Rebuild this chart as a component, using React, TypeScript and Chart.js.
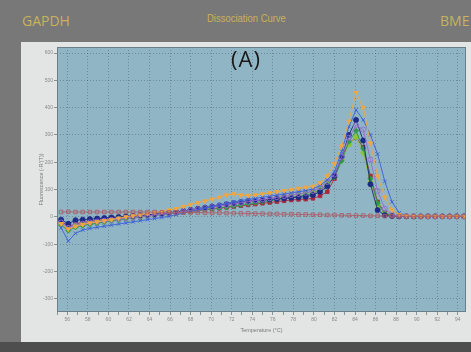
import React, { useEffect, useRef } from 'react';
import { Chart, registerables } from 'chart.js';

Chart.register(...registerables);

const temperatures = [55.4, 56.1, 56.8, 57.5, 58.2, 58.9, 59.6, 60.3, 61.0, 61.7, 62.4, 63.1, 63.8, 64.5, 65.2, 65.9, 66.6, 67.3, 68.0, 68.7, 69.4, 70.1, 70.8, 71.5, 72.2, 72.9, 73.6, 74.3, 75.0, 75.7, 76.4, 77.1, 77.8, 78.5, 79.2, 79.9, 80.6, 81.3, 82.0, 82.7, 83.4, 84.1, 84.8, 85.5, 86.2, 86.9, 87.6, 88.3, 89.0, 89.7, 90.4, 91.1, 91.8, 92.5, 93.2, 93.9, 94.6];

const orange = [-25, -45, -35, -28, -22, -18, -14, -10, -5, 0, 4, 8, 12, 16, 20, 25, 30, 38, 45, 52, 58, 65, 72, 80, 84, 80, 78, 80, 84, 88, 92, 96, 100, 104, 108, 112, 125, 150, 195, 260, 350, 455, 400, 270, 150, 72, 25, 8, 4, 3, 3, 2, 2, 2, 2, 2, 2];
const blue = [-40, -88, -60, -48, -42, -38, -34, -30, -26, -22, -18, -14, -10, -6, -2, 2, 8, 14, 20, 26, 32, 38, 44, 50, 55, 60, 64, 68, 72, 76, 80, 84, 88, 92, 96, 102, 115, 135, 165, 240, 330, 392, 355, 300, 230, 130, 55, 15, 5, 3, 3, 2, 2, 2, 2, 2, 2];
const navy = [-10, -25, -12, -10, -8, -6, -4, -2, 0, 2, 4, 6, 8, 10, 12, 15, 18, 22, 26, 30, 34, 38, 42, 46, 50, 54, 58, 60, 62, 64, 66, 68, 70, 72, 74, 80, 92, 112, 150, 220, 300, 355, 280, 120, 25, 6, 3, 2, 2, 2, 2, 2, 2, 2, 2, 2, 2];
const purple = [-20, -40, -30, -25, -20, -17, -14, -11, -8, -5, -2, 1, 4, 7, 10, 13, 16, 20, 24, 28, 32, 36, 40, 44, 48, 52, 56, 60, 64, 68, 72, 76, 80, 84, 88, 95, 108, 128, 155, 220, 290, 335, 320, 210, 95, 30, 8, 4, 3, 3, 2, 2, 2, 2, 2, 2, 2];
const green = [-30, -50, -38, -32, -27, -23, -19, -15, -11, -7, -3, 0, 3, 6, 9, 12, 15, 18, 21, 24, 27, 30, 33, 36, 40, 44, 48, 52, 56, 60, 64, 68, 72, 76, 80, 86, 98, 118, 145, 205, 275, 315, 250, 140, 50, 12, 4, 3, 2, 2, 2, 2, 2, 2, 2, 2, 2];
const lightGreen = [-25, -45, -33, -28, -24, -20, -16, -12, -9, -6, -3, 0, 3, 6, 9, 12, 15, 18, 22, 26, 30, 34, 38, 42, 46, 50, 54, 58, 62, 66, 70, 74, 78, 82, 86, 92, 104, 124, 150, 210, 265, 293, 235, 125, 42, 10, 4, 3, 2, 2, 2, 2, 2, 2, 2, 2, 2];
const maroon = [-15, -35, -25, -20, -16, -12, -9, -6, -3, 0, 2, 4, 6, 8, 10, 12, 14, 17, 20, 23, 26, 29, 32, 35, 38, 41, 44, 47, 50, 53, 56, 59, 62, 64, 65, 68, 77, 92, 140, 220, 270, 290, 255, 150, 55, 15, 5, 3, 2, 2, 2, 2, 2, 2, 2, 2, 2];
const flat = [18, 19, 18, 18, 18, 18, 18, 18, 18, 18, 18, 18, 18, 18, 17, 17, 17, 16, 16, 16, 15, 15, 15, 14, 14, 13, 13, 12, 12, 11, 11, 10, 10, 9, 9, 8, 8, 7, 7, 6, 6, 5, 5, 4, 4, 3, 3, 3, 2, 2, 2, 2, 2, 2, 2, 2, 2];

const yTickValues = [600, 500, 400, 300, 200, 100, 0, -100, -200, -300];
const xTickValues = [56, 58, 60, 62, 64, 66, 68, 70, 72, 74, 76, 78, 80, 82, 84, 86, 88, 90, 92, 94];

const seriesDefs = [
  { label: 'S8', data: flat, color: '#a9606a', style: 'rect', rot: 0, fill: false },
  { label: 'S1', data: orange, color: '#f2a640', style: 'triangle', rot: 180, fill: true },
  { label: 'S2', data: blue, color: '#3b5fd6', style: 'crossRot', rot: 0, fill: true },
  { label: 'S3', data: purple, color: '#9a6cd0', style: 'circle', rot: 0, fill: false },
  { label: 'S4', data: navy, color: '#1d2a86', style: 'circle', rot: 0, fill: true },
  { label: 'S5', data: green, color: '#2f9848', style: 'rectRot', rot: 0, fill: true },
  { label: 'S6', data: lightGreen, color: '#8cc43e', style: 'circle', rot: 0, fill: true },
  { label: 'S7', data: maroon, color: '#a8283c', style: 'rect', rot: 0, fill: true },
];

export default function App() {
  const ref = useRef<HTMLCanvasElement | null>(null);

  useEffect(() => {
    if (!ref.current) return;
    const gridColor = 'rgba(70,85,95,0.55)';
    const bgPlugin = {
      id: 'plotBg',
      beforeDraw(chart: any) {
        const { ctx, chartArea: a } = chart;
        ctx.save();
        ctx.fillStyle = '#90b5c5';
        ctx.fillRect(a.left, a.top, a.right - a.left, a.bottom - a.top);
        ctx.restore();
      },
      afterDraw(chart: any) {
        const { ctx, chartArea: a } = chart;
        ctx.save();
        ctx.strokeStyle = '#6b7f88';
        ctx.lineWidth = 1;
        ctx.strokeRect(a.left + 0.5, a.top + 0.5, a.right - a.left - 1, a.bottom - a.top - 1);
        ctx.restore();
      },
    };

    const chart = new Chart(ref.current, {
      type: 'line',
      data: {
        datasets: seriesDefs.map((s) => ({
          label: s.label,
          data: s.data.map((v, i) => ({ x: temperatures[i], y: v })),
          borderColor: s.color,
          backgroundColor: s.fill ? s.color : 'rgba(0,0,0,0)',
          pointBorderColor: s.color,
          pointBackgroundColor: s.fill ? s.color : 'rgba(0,0,0,0)',
          pointStyle: s.style as any,
          pointRotation: s.rot,
          pointRadius: 2.5,
          pointBorderWidth: 0.9,
          borderWidth: 0.9,
          tension: 0,
        })),
      },
      options: {
        animation: false,
        responsive: false,
        maintainAspectRatio: false,
        layout: { padding: { top: 5, right: 5, left: 0, bottom: 0 } },
        plugins: { legend: { display: false }, tooltip: { enabled: false } },
        scales: {
          x: {
            type: 'linear',
            min: 55,
            max: 94.8,
            afterBuildTicks: (scale: any) => {
              const t: any[] = [];
              for (let v = 55; v <= 94; v++) t.push({ value: v });
              scale.ticks = t;
            },
            afterFit: (scale: any) => {
              scale.height = 30;
            },
            ticks: {
              autoSkip: false,
              maxRotation: 0,
              padding: 2,
              color: '#8a8a8a',
              font: { size: 5, family: 'Liberation Sans' },
              callback: (v: any) => (xTickValues.includes(Number(v)) ? String(v) : ''),
            },
            grid: {
              color: (c: any) => (c.tick && xTickValues.includes(c.tick.value) ? gridColor : 'rgba(0,0,0,0)'),
              tickColor: '#6b7f88',
              tickLength: 3,
              lineWidth: 0.8,
            },
            border: { display: false, dash: [1, 2] },
            title: {
              display: true,
              text: 'Temperature (°C)',
              color: '#7a7a7a',
              font: { size: 5.5, family: 'Liberation Sans' },
              padding: { top: 0, bottom: 8 },
            },
          },
          y: {
            type: 'linear',
            min: -348,
            max: 622,
            afterBuildTicks: (scale: any) => {
              scale.ticks = yTickValues.slice().reverse().map((v) => ({ value: v }));
            },
            afterFit: (scale: any) => {
              scale.width = 36;
            },
            ticks: {
              padding: 1,
              color: '#8a8a8a',
              font: { size: 5, family: 'Liberation Sans' },
              callback: (v: any) => String(v),
            },
            grid: {
              color: gridColor,
              tickColor: '#6b7f88',
              tickLength: 3,
              lineWidth: 0.8,
            },
            border: { display: false, dash: [1, 2] },
            title: {
              display: true,
              text: "Fluorescence (-R'(T))",
              color: '#7a7a7a',
              font: { size: 5.5, family: 'Liberation Sans' },
              padding: { top: 17, bottom: 0 },
            },
          },
        },
      },
      plugins: [bgPlugin],
    });
    return () => chart.destroy();
  }, []);

  const gold = '#c9b25a';
  return (
    <div style={{ position: 'absolute', left: 0, top: 0, width: 471, height: 352, background: '#787878', overflow: 'hidden' }}>
      <div style={{ position: 'absolute', left: 22, top: 11, fontFamily: '"Open Sans", sans-serif', fontSize: 14, color: gold }}>GAPDH</div>
      <div style={{ position: 'absolute', left: 207, top: 12, fontFamily: '"Liberation Sans", sans-serif', fontSize: 11, color: gold, transform: 'scaleX(0.86)', transformOrigin: 'left top', whiteSpace: 'nowrap' }}>Dissociation Curve</div>
      <div style={{ position: 'absolute', left: 440, top: 11, fontFamily: '"Open Sans", sans-serif', fontSize: 14, color: gold, whiteSpace: 'nowrap' }}>BME</div>
      <div style={{ position: 'absolute', left: 21, top: 42, width: 450, height: 300, background: '#e3e5e5' }}>
        <canvas ref={ref} width={450} height={300} style={{ display: 'block', width: 450, height: 300 }} />
      </div>
      <div style={{ position: 'absolute', left: 0, top: 342, width: 471, height: 10, background: '#4e4e4e' }} />
      <div style={{ position: 'absolute', left: 231, top: 43, fontFamily: '"Open Sans", sans-serif', fontSize: 22, letterSpacing: 1, color: '#1a1a1a' }}>(A)</div>
    </div>
  );
}
